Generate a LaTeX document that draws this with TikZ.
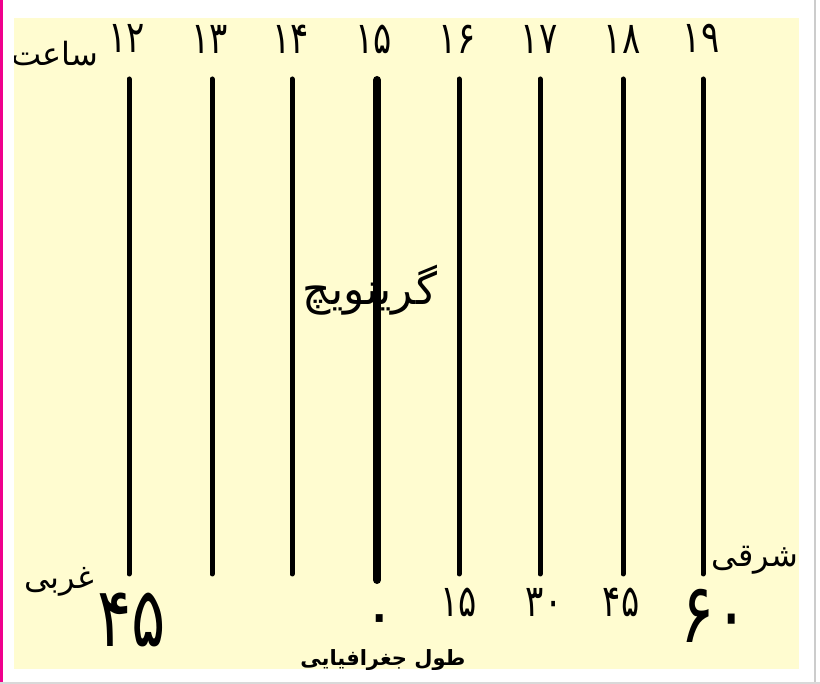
\documentclass[tikz,border=0pt]{standalone}
\usepackage{fontspec}
\newfontfamily\arabicfont[Script=Arabic]{DejaVu Sans}
\TeXXeTstate=1
\definecolor{bgyellow}{RGB}{255,252,208}
\definecolor{pinkedge}{RGB}{240,0,140}
\newcommand{\tallnum}[1]{\scalebox{1}[1.3]{#1}}
\begin{document}
\begin{tikzpicture}[x=1pt,y=-1pt,
  meridian/.style={line width=5pt,line cap=round},
  greenwich/.style={line width=8pt,line cap=round},
  num/.style={font=\arabicfont\fontsize{34}{34}\selectfont,inner sep=0pt},
  bignum/.style={font=\arabicfont\fontsize{64}{64}\selectfont,inner sep=0pt},
  word/.style={font=\arabicfont\fontsize{32}{32}\selectfont,inner sep=0pt}]
\useasboundingbox (0,0) rectangle (820,684);
\fill[white] (0,0) rectangle (820,684);
\fill[pinkedge] (0,0) rectangle (2.5,684);
\fill[gray!40] (814,0) rectangle (816,684);
\fill[gray!30] (0,682) rectangle (820,684);
\fill[bgyellow] (14,18) rectangle (799,669);
\begin{scope}
\clip (14,18) rectangle (799,669);
% labels
\node[word] (saat) at (55,54) {\beginR ساعت\endR};
\node[word] (gharbi) at (59,582) {\beginR غربی\endR};
\node[word] (sharghi) at (755,560) {\beginR شرقی\endR};
\node[font=\arabicfont\fontsize{44}{44}\selectfont,inner sep=0pt] (greenwichlabel) at (370,290) {\beginR گرینویچ\endR};
\node[font=\arabicfont\bfseries\fontsize{21}{21}\selectfont,inner sep=0pt] (tool) at (383,660) {\beginR طول جغرافیایی\endR};
% top hour numbers
\node[num] (h12) at (127,38) {\tallnum{۱۲}};
\node[num] (h13) at (210,39) {\tallnum{۱۳}};
\node[num] (h14) at (291,39) {\tallnum{۱۴}};
\node[num] (h15) at (374,39) {\tallnum{۱۵}};
\node[num] (h16) at (457,39) {\tallnum{۱۶}};
\node[num] (h17) at (539,39) {\tallnum{۱۷}};
\node[num] (h18) at (622,39) {\tallnum{۱۸}};
\node[num] (h19) at (701,38) {\tallnum{۱۹}};
% bottom longitude numbers
\node[bignum] (l45w) at (132,620) {\tallnum{۴۵}};
\node[bignum,anchor=base] (l0) at (380,636) {\smash{۰}};
\node[num] (l15) at (459,602) {\tallnum{۱۵}};
\node[num] (l30) at (544,602) {\tallnum{۳۰}};
\node[num] (l45) at (621,602) {\tallnum{۴۵}};
\node[bignum] (l60) at (715,616) {\tallnum{۶۰}};
\end{scope}
% meridians
\foreach \n/\x in {a/129,b/212,c/292,e/459,f/540,g/623,h/703}{
  \coordinate (t\n) at (\x,79);
  \coordinate (b\n) at (\x,574);
  \draw[meridian] (t\n) -- (b\n);
}
\coordinate (td) at (377,80);
\coordinate (bd) at (377,580);
\draw[greenwich] (td) -- (bd);
\end{tikzpicture}
\end{document}
